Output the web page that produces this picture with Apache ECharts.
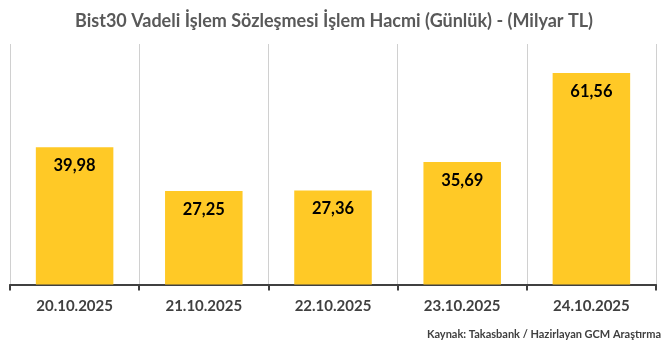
<!DOCTYPE html>
<html><head><meta charset="utf-8">
<script src="https://cdn.jsdelivr.net/npm/echarts@6/dist/echarts.min.js"></script>
<style>html,body{margin:0;padding:0;background:#fff}#c{width:668px;height:348px}</style>
</head><body><div id="c"></div>
<script>
const categories = ["20.10.2025","21.10.2025","22.10.2025","23.10.2025","24.10.2025"];
const values = [39.98, 27.25, 27.36, 35.69, 61.56];
const titleText = "Bist30 Vadeli İşlem Sözleşmesi İşlem Hacmi (Günlük) - (Milyar TL)";
const sourceText = "Kaynak: Takasbank / Hazirlayan GCM Araştırma";

const chart = echarts.init(document.getElementById('c'), null, {renderer:'canvas'});
chart.setOption({
  animation:false,
  backgroundColor:'#ffffff',
  textStyle:{fontFamily:'Lato'},
  title:[{
    text:titleText, left:'center', top:7,
    textStyle:{fontFamily:'Lato', fontWeight:'bold', fontSize:18, color:'#595959'}
  },{
    text:sourceText, right:2, top:324,
    textStyle:{fontFamily:'Lato', fontWeight:'bold', fontSize:11, color:'#404040'}
  }],
  grid:{left:10, right:12, top:44, bottom:63.5, containLabel:false},
  xAxis:{
    type:'category', data:categories, boundaryGap:true,
    axisLine:{show:true, lineStyle:{color:'#404040', width:2}},
    axisTick:{show:true, alignWithLabel:false, length:6, lineStyle:{color:'#404040', width:2}},
    axisLabel:{fontFamily:'Lato', fontWeight:'bold', fontSize:15, color:'#404040', margin:14},
    splitLine:{show:true, lineStyle:{color:'#D0D0D0', width:1}}
  },
  yAxis:{
    type:'value', min:0, max:70, show:false,
    splitLine:{show:false}
  },
  series:[{
    type:'bar', data:values, barWidth:'60%',
    itemStyle:{color:'#FFC926'},
    label:{show:true, position:'insideTop', distance:10,
      formatter:p=>p.value.toFixed(2).replace('.',','),
      fontFamily:'Lato', fontWeight:'bold', fontSize:16.5, color:'#000000'}
  }]
});
</script></body></html>
